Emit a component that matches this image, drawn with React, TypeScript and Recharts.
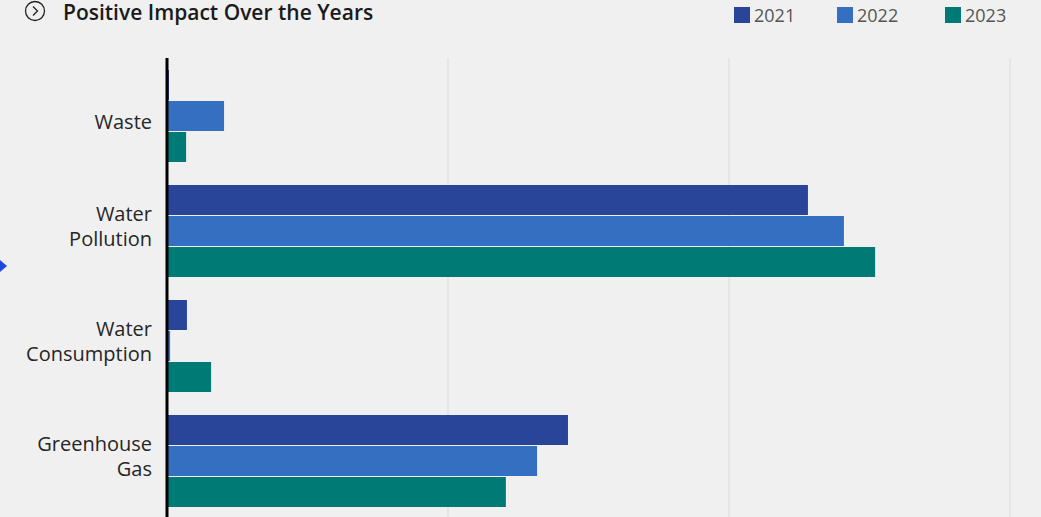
import React from "react"
import { Bar, BarChart, CartesianGrid, XAxis, YAxis } from "recharts"

const categories = ["Waste", "Water Pollution", "Water Consumption", "Greenhouse Gas"]
const years = ["2021", "2022", "2023"]
const values2021 = [0.7, 228.1, 7.1, 142.7]
const values2022 = [20.3, 240.9, 1.1, 131.7]
const values2023 = [6.8, 252, 15.7, 120.6]
const xTicks = [0, 100, 200, 300]

const COLORS = ["#28459a", "#346fc2", "#007a74"]
const FONT = "'Open Sans', Lato, sans-serif"

const data = categories.map((name, i) => ({
  name,
  y2021: values2021[i],
  y2022: values2022[i],
  y2023: values2023[i],
}))

function CategoryTick(props: any) {
  const { x, y, payload } = props
  const words = String(payload.value).split(" ")
  const lineHeight = 25
  // single-line labels sit a bit lower, two-line ones a bit higher
  const shift = words.length > 1 ? -5 : 6
  const first = y - ((words.length - 1) * lineHeight) / 2 + shift
  return (
    <g>
      {words.map((w, i) => (
        <text
          key={w}
          x={x - 7}
          y={first + i * lineHeight}
          textAnchor="end"
          fill="#262626"
          fontSize={20}
          fontFamily={FONT}
          dominantBaseline="central"
        >
          {w}
        </text>
      ))}
    </g>
  )
}

const legendLeft = [734, 837, 945]

export default function App() {
  return (
    <div
      style={{
        position: "fixed",
        left: 0,
        top: 0,
        width: 1041,
        height: 517,
        background: "#f0f0f0",
        overflow: "hidden",
        fontFamily: FONT,
      }}
    >
      <div
        style={{
          position: "absolute",
          left: 0,
          top: 260,
          width: 0,
          height: 0,
          borderTop: "6px solid transparent",
          borderBottom: "6px solid transparent",
          borderLeft: "7px solid #1f4ae0",
        }}
      />
      <svg width={22} height={22} style={{ position: "absolute", left: 24, top: 0 }}>
        <circle cx={11} cy={11} r={9.5} fill="none" stroke="#222" strokeWidth={1.3} />
        <path d="M9 6.5 L13.5 11 L9 15.5" fill="none" stroke="#222" strokeWidth={1.3} />
      </svg>
      <div
        style={{
          position: "absolute",
          left: 63,
          top: 2,
          fontSize: 21,
          fontWeight: 600,
          color: "#1a1a1a",
          lineHeight: "21px",
          whiteSpace: "nowrap",
        }}
      >
        Positive Impact Over the Years
      </div>
      {years.map((yr, i) => (
        <div
          key={yr}
          style={{
            position: "absolute",
            left: legendLeft[i],
            top: 7,
            display: "flex",
            alignItems: "center",
          }}
        >
          <span
            style={{
              display: "inline-block",
              width: 16,
              height: 16,
              background: COLORS[i],
              marginRight: 4,
            }}
          />
          <span style={{ fontSize: 18, color: "#555", lineHeight: "16px" }}>{yr}</span>
        </div>
      ))}
      <BarChart
        width={1041}
        height={530}
        data={data}
        layout="vertical"
        margin={{ top: 58, right: 31, bottom: 12, left: 0 }}
        barCategoryGap={12}
        barGap={1}
      >
        <CartesianGrid horizontal={false} stroke="#dadada" />
        <XAxis type="number" domain={[0, 300]} ticks={xTicks} hide />
        <YAxis
          type="category"
          dataKey="name"
          width={167}
          tick={<CategoryTick />}
          tickLine={false}
          axisLine={{ stroke: "#000", strokeWidth: 3 }}
        />
        <Bar dataKey="y2021" name="2021" fill={COLORS[0]} isAnimationActive={false} />
        <Bar dataKey="y2022" name="2022" fill={COLORS[1]} isAnimationActive={false} />
        <Bar dataKey="y2023" name="2023" fill={COLORS[2]} isAnimationActive={false} />
      </BarChart>
    </div>
  )
}
